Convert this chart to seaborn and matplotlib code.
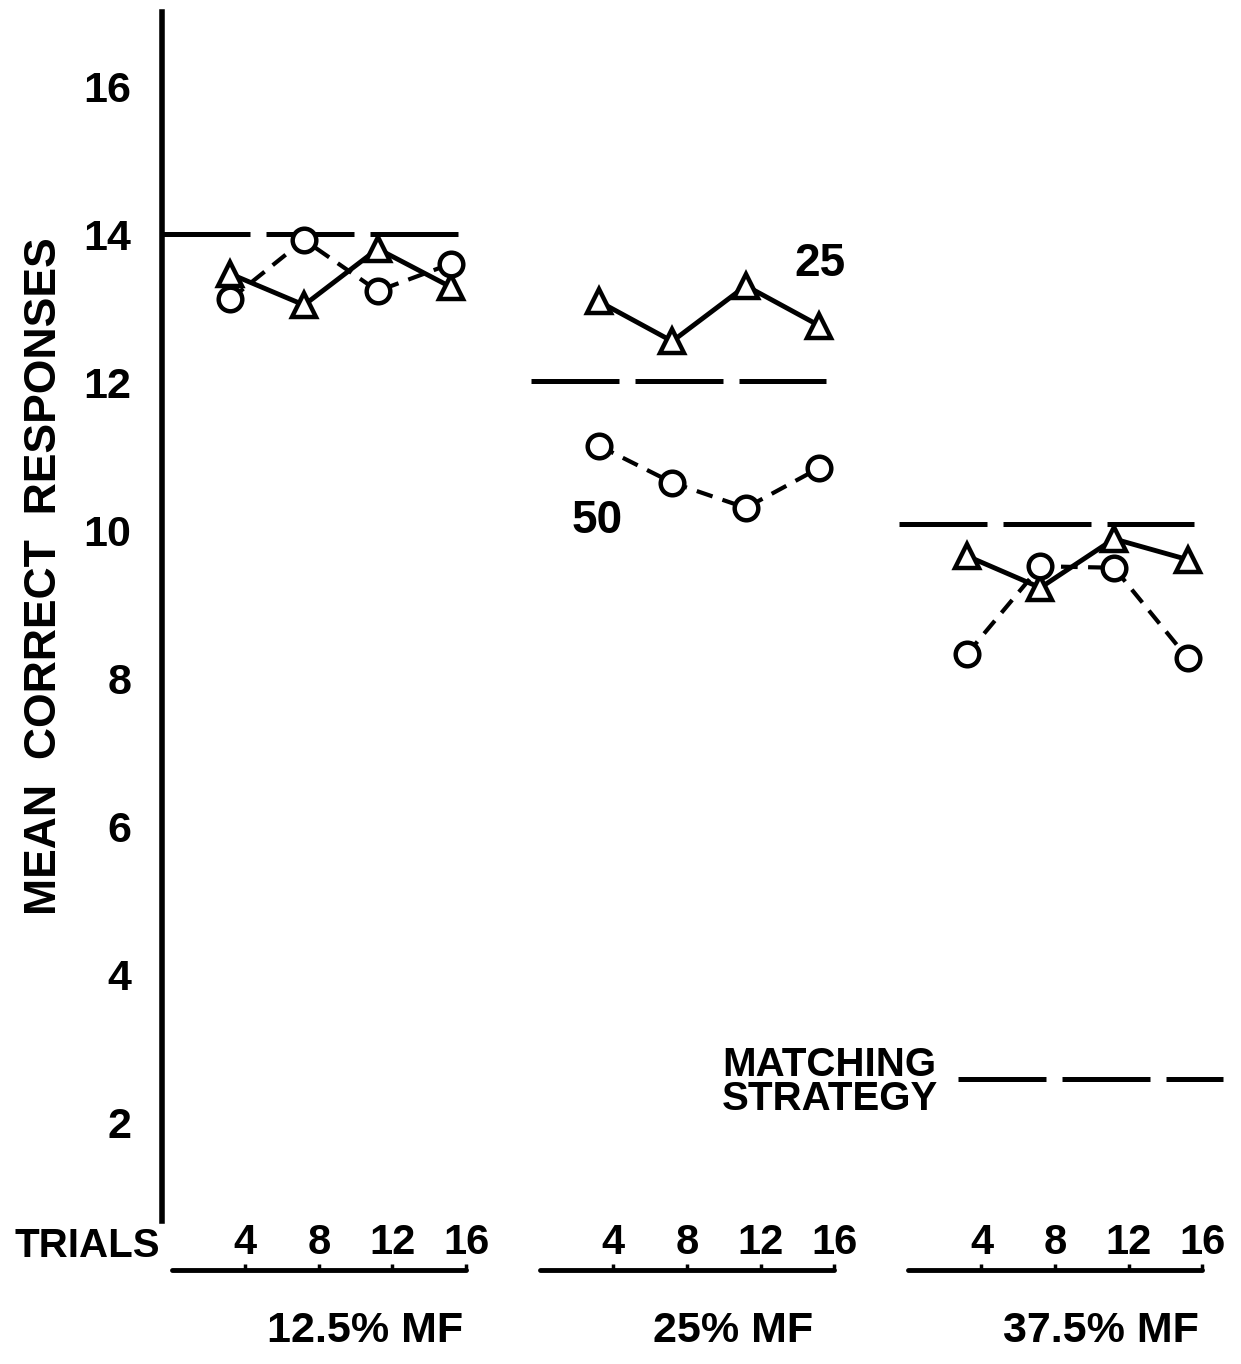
import numpy as np
import pandas as pd
import matplotlib
matplotlib.use("Agg")
import matplotlib.pyplot as plt
import seaborn as sns

# values
trials = [4, 8, 12, 16]
conditions = ["12.5% MF", "25% MF", "37.5% MF"]
series_25 = [[13.46, 13.04, 13.80, 13.28],
             [13.09, 12.55, 13.30, 12.76],
             [9.65, 9.22, 9.88, 9.60]]
series_50 = [[13.12, 13.92, 13.23, 13.60],
             [11.14, 10.64, 10.30, 10.84],
             [8.32, 9.51, 9.49, 8.27]]
matching = [14.0, 12.02, 10.08]
legend_level = 2.58
yticks = [2, 4, 6, 8, 10, 12, 14, 16]

GROUP_GAP = 20      # trial units between the three panels
MARK_SHIFT = -0.8   # points sit a bit left of the trial tick

rows = []
for g, cond in enumerate(conditions):
    for t, a, b in zip(trials, series_25[g], series_50[g]):
        rows.append(dict(cond=cond, group=g, trial=t, series="25", value=a))
        rows.append(dict(cond=cond, group=g, trial=t, series="50", value=b))
df = pd.DataFrame(rows)
df["x"] = df["group"] * GROUP_GAP + df["trial"] + MARK_SHIFT

sns.set_style("white")
plt.rcParams["font.family"] = ["Liberation Sans", "DejaVu Sans"]
plt.rcParams["font.weight"] = "bold"
plt.rcParams["text.color"] = "black"
plt.rcParams["axes.labelcolor"] = "black"
plt.rcParams["ytick.color"] = "black"

fig = plt.figure(figsize=(12.41, 13.64), dpi=100)
ax = fig.add_axes([162 / 1241, 0, 1079 / 1241, 1352 / 1364])

styles = {
    "25": dict(marker="^", linestyle="-", lw=3.5),
    "50": dict(marker="o", linestyle=(0, (4, 2.5)), lw=3.0),
}
for cond in conditions:
    for s, st in styles.items():
        sub = df[(df["cond"] == cond) & (df["series"] == s)]
        sns.lineplot(data=sub, x="x", y="value", ax=ax, color="black",
                     errorbar=None, legend=False, markersize=17,
                     markerfacecolor="white", markeredgecolor="black",
                     markeredgewidth=3.2, zorder=4, **st)

# matching-strategy reference lines
dash = (0, (17.6, 3.2))
for g, lvl in enumerate(matching):
    x0 = g * GROUP_GAP
    ax.plot([x0 - 0.5, x0 + 15.55], [lvl, lvl], color="black", lw=3.6,
            linestyle=dash, solid_capstyle="butt", zorder=2)

# trial axes under each panel
for g, cond in enumerate(conditions):
    x0 = g * GROUP_GAP
    ax.plot([x0, x0 + 16], [0, 0], color="black", lw=3.5, zorder=2)
    ax.vlines([x0 + t for t in trials], 0, 0.08, color="black", lw=2.5)
    for t in trials:
        ax.text(x0 + t, 0.36, str(t), ha="center", va="center",
                fontsize=30, fontweight="bold")
    ax.text(x0 + 10.5, -0.82, cond, ha="center", va="center",
            fontsize=31, fontweight="bold")
ax.text(-0.6, 0.33, "TRIALS", ha="right", va="center", fontsize=29,
        fontweight="bold", clip_on=False)

# series labels
ax.text(35.2, 13.6, "25", ha="center", va="center", fontsize=33,
        fontweight="bold")
ax.text(23.1, 10.12, "50", ha="center", va="center", fontsize=33,
        fontweight="bold")

# legend for the dashed line
ax.text(29.9, 2.54, "MATCHING\nSTRATEGY", ha="left", va="center",
        fontsize=29, fontweight="bold", linespacing=0.85)
ax.plot([42.7, 57.1], [legend_level, legend_level], color="black", lw=3.6,
        linestyle=dash, solid_capstyle="butt")

ax.set_xlim(-0.52, 58.1)
ax.set_ylim(-1.27, 17.0)
ax.set_xticks([])
ax.set_xlabel("")
ax.set_yticks(yticks)
ax.set_yticklabels([str(v) for v in yticks], fontsize=31, fontweight="bold")
ax.tick_params(axis="y", direction="in", length=7, width=3, pad=22,
               colors="black")
for side in ["top", "right", "bottom"]:
    ax.spines[side].set_visible(False)
ax.spines["left"].set_linewidth(4)
ax.spines["left"].set_color("black")
ax.spines["left"].set_bounds(0.66, 17.0)

ax.set_ylabel("MEAN  CORRECT  RESPONSES", fontsize=32, fontweight="bold")
ax.yaxis.set_label_coords(-0.09, 0.583)

fig.savefig("out.png", dpi=100, facecolor="white")
